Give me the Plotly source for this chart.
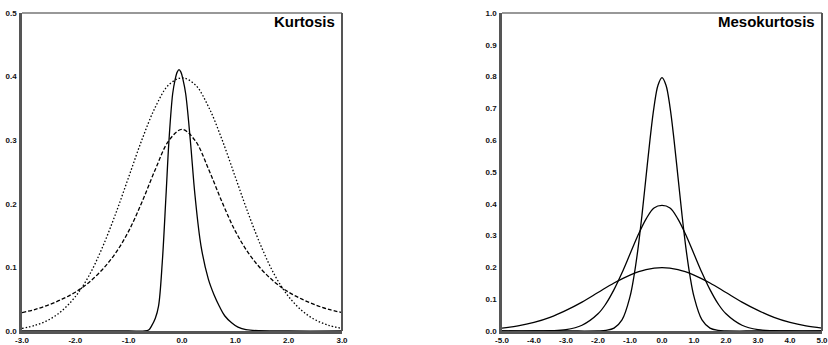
import plotly.graph_objects as go

# ---- Left panel: Kurtosis ----
k_x = [-3.0, -2.75, -2.5, -2.25, -2.0, -1.75, -1.5, -1.25, -1.0, -0.75, -0.5, -0.25,
       0.0, 0.25, 0.5, 0.75, 1.0, 1.25, 1.5, 1.75, 2.0, 2.25, 2.5, 2.75, 3.0]
k_dotted = [0.004, 0.009, 0.0175, 0.032, 0.054, 0.086, 0.130, 0.183, 0.242, 0.301, 0.352, 0.387,
            0.398, 0.387, 0.352, 0.301, 0.242, 0.183, 0.130, 0.086, 0.054, 0.032, 0.0175, 0.009, 0.004]
k_dashed = [0.029, 0.034, 0.041, 0.050, 0.061, 0.076, 0.096, 0.122, 0.157, 0.203, 0.254, 0.299,
            0.317, 0.299, 0.254, 0.203, 0.157, 0.122, 0.096, 0.076, 0.061, 0.050, 0.041, 0.034, 0.029]
k_solid_x = [-3.0, -1.0, -0.7, -0.62, -0.57, -0.5, -0.44, -0.37, -0.30, -0.244, -0.175, -0.13, -0.09,
             -0.056, -0.02, 0.02, 0.069, 0.156, 0.244, 0.356, 0.494, 0.60, 0.70, 0.80, 0.93, 1.05, 1.2, 2.0, 3.0]
k_solid = [0.0, 0.0, 0.0, 0.002, 0.008, 0.02, 0.039, 0.108, 0.213, 0.300, 0.373, 0.395, 0.407,
           0.411, 0.407, 0.395, 0.373, 0.300, 0.213, 0.134, 0.0815, 0.057, 0.039, 0.024, 0.013, 0.006, 0.002, 0.0, 0.0]

# ---- Right panel: Mesokurtosis ----
m_x = [-5.0, -4.5, -4.0, -3.5, -3.0, -2.5, -2.0, -1.5, -1.0, -0.5, 0.0,
       0.5, 1.0, 1.5, 2.0, 2.5, 3.0, 3.5, 4.0, 4.5, 5.0]
m_wide = [0.009, 0.016, 0.027, 0.043, 0.065, 0.091, 0.121, 0.151, 0.176, 0.193, 0.199,
          0.193, 0.176, 0.151, 0.121, 0.091, 0.065, 0.043, 0.027, 0.016, 0.009]
m_mx = [-5.0, -4.0, -3.5, -3.0, -2.5, -2.0, -1.75, -1.5, -1.25, -1.0, -0.75, -0.5, -0.25, 0.0,
        0.25, 0.5, 0.75, 1.0, 1.25, 1.5, 1.75, 2.0, 2.5, 3.0, 3.5, 4.0, 5.0]
m_mid = [0.0, 0.0, 0.001, 0.004, 0.018, 0.054, 0.086, 0.130, 0.183, 0.242, 0.301, 0.352, 0.387, 0.395,
         0.387, 0.352, 0.301, 0.242, 0.183, 0.130, 0.086, 0.054, 0.018, 0.004, 0.001, 0.0, 0.0]
m_nx = [-5.0, -3.0, -2.0, -1.75, -1.5, -1.25, -1.0, -0.875, -0.75, -0.625, -0.5, -0.375, -0.25, -0.125, 0.0,
        0.125, 0.25, 0.375, 0.5, 0.625, 0.75, 0.875, 1.0, 1.25, 1.5, 1.75, 2.0, 3.0, 5.0]
m_narrow = [0.0, 0.0, 0.0003, 0.002, 0.009, 0.035, 0.108, 0.173, 0.259, 0.365, 0.484, 0.602, 0.704, 0.773, 0.797,
            0.773, 0.704, 0.602, 0.484, 0.365, 0.259, 0.173, 0.108, 0.035, 0.009, 0.002, 0.0003, 0.0, 0.0]

k_ticks_x = [-3, -2, -1, 0, 1, 2, 3]
k_ticks_y = [0.0, 0.1, 0.2, 0.3, 0.4, 0.5]
m_ticks_x = [-5, -4, -3, -2, -1, 0, 1, 2, 3, 4, 5]
m_ticks_y = [0.0, 0.1, 0.2, 0.3, 0.4, 0.5, 0.6, 0.7, 0.8, 0.9, 1.0]

W, H = 828, 345
L1, R1, L2, R2 = 22 / W, 342 / W, 502 / W, 822 / W
YT, YB = 1 - 13 / H, 1 - 331 / H

fig = go.Figure()
ln = dict(color="black", width=1.3, shape="spline", smoothing=1.0)
fig.add_trace(go.Scatter(x=k_x, y=k_dotted, mode="lines", line=dict(ln, dash="1.5px,2px"), xaxis="x", yaxis="y"))
fig.add_trace(go.Scatter(x=k_x, y=k_dashed, mode="lines", line=dict(ln, dash="4px,2px"), xaxis="x", yaxis="y"))
fig.add_trace(go.Scatter(x=k_solid_x, y=k_solid, mode="lines", line=ln, xaxis="x", yaxis="y"))
fig.add_trace(go.Scatter(x=m_x, y=m_wide, mode="lines", line=ln, xaxis="x2", yaxis="y2"))
fig.add_trace(go.Scatter(x=m_mx, y=m_mid, mode="lines", line=ln, xaxis="x2", yaxis="y2"))
fig.add_trace(go.Scatter(x=m_nx, y=m_narrow, mode="lines", line=ln, xaxis="x2", yaxis="y2"))

tf = dict(family="Liberation Sans, Arial", size=8, color="#111", weight="bold")
common = dict(showgrid=False, zeroline=False, ticks="", showline=True, linecolor="#555",
              linewidth=2.5, tickfont=tf, fixedrange=True, automargin=False,
              ticklabeloverflow="allow")

fig.update_layout(
    width=W, height=H, margin=dict(l=0, r=0, t=0, b=0, autoexpand=False),
    paper_bgcolor="white", plot_bgcolor="white", showlegend=False,
    xaxis=dict(common, domain=[L1, R1], range=[-3, 3], tickvals=k_ticks_x,
               ticktext=[f"{v:.1f}" for v in k_ticks_x], anchor="y", ticklabelstandoff=0),
    yaxis=dict(common, domain=[YB, YT], range=[0, 0.5], tickvals=k_ticks_y,
               ticktext=[f"{v:.1f}" for v in k_ticks_y], anchor="x", ticklabelstandoff=1),
    xaxis2=dict(common, domain=[L2, R2], range=[-5, 5], tickvals=m_ticks_x,
                ticktext=[f"{v:.1f}" for v in m_ticks_x], anchor="y2", ticklabelstandoff=0),
    yaxis2=dict(common, domain=[YB, YT], range=[0, 1.0], tickvals=m_ticks_y,
                ticktext=[f"{v:.1f}" for v in m_ticks_y], anchor="x2", ticklabelstandoff=1),
)

shapes = []
for (l, r) in [(L1, R1), (L2, R2)]:
    shapes.append(dict(type="line", xref="paper", yref="paper", x0=l, x1=r, y0=YT, y1=YT,
                       line=dict(color="#333", width=1.2)))
    shapes.append(dict(type="line", xref="paper", yref="paper", x0=r, x1=r, y0=YB, y1=YT,
                       line=dict(color="#555", width=2)))
fig.update_layout(shapes=shapes)

af = dict(family="Liberation Sans, Arial", size=15, color="black", weight="bold")
fig.add_annotation(text="Kurtosis", xref="paper", yref="paper", x=336 / W, y=1 - 12 / H,
                   xanchor="right", yanchor="top", showarrow=False, font=af, borderpad=0)
fig.add_annotation(text="Mesokurtosis", xref="paper", yref="paper", x=816 / W, y=1 - 12 / H,
                   xanchor="right", yanchor="top", showarrow=False, font=af, borderpad=0)

fig.write_html("out.html")
